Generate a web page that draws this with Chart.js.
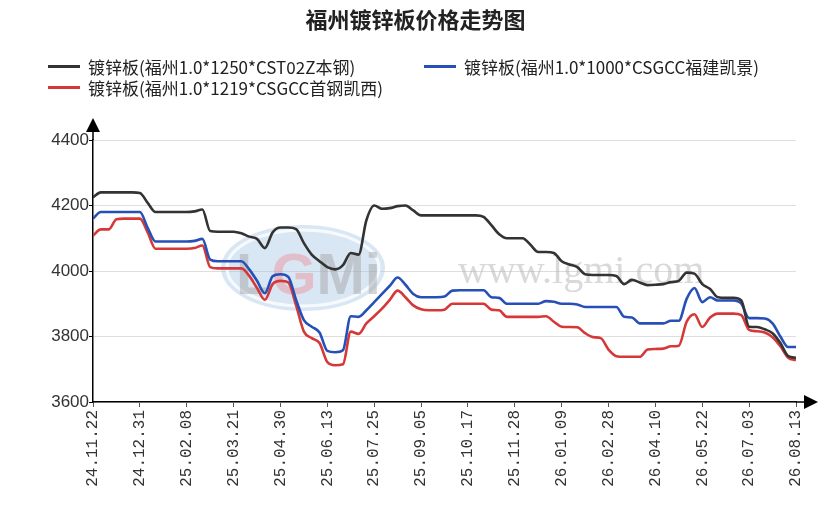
<!DOCTYPE html>
<html>
<head>
<meta charset="utf-8">
<title>福州镀锌板价格走势图</title>
<script src="https://cdn.jsdelivr.net/npm/chart.js@4.4.1/dist/chart.umd.min.js"></script>
<style>
  body { margin: 0; background: #fff; }
  #wrap { position: relative; width: 831px; height: 515px; }
  #title {
    position: absolute; left: 0; top: 4px; width: 831px; text-align: center;
    font: bold 22px "Noto Sans CJK SC", sans-serif; line-height: 28px; color: #222;
  }
  #legend {
    position: absolute; left: 48px; top: 56px;
    display: grid; grid-template-columns: 376px auto;
    font: 17px "Noto Sans CJK SC", sans-serif; line-height: 21px; color: #222;
  }
  .item { display: flex; align-items: center; height: 21px; white-space: nowrap; }
  .swatch { width: 32px; height: 3px; margin-right: 8px; }
</style>
</head>
<body>
<div id="wrap">
  <canvas id="priceChart" width="831" height="515"></canvas>
  <div id="title">福州镀锌板价格走势图</div>
  <div id="legend"></div>
</div>
<script>
// 横轴日期标签（每6个数据点一个）
const xTickLabels = ['24.11.22', '24.12.31', '25.02.08', '25.03.21', '25.04.30', '25.06.13',
  '25.07.25', '25.09.05', '25.10.17', '25.11.28', '26.01.09', '26.02.28',
  '26.04.10', '26.05.22', '26.07.03', '26.08.13'];
const pointsPerLabel = 6;

const seriesNames = [
  '镀锌板(福州1.0*1250*CST02Z本钢)',
  '镀锌板(福州1.0*1000*CSGCC福建凯景)',
  '镀锌板(福州1.0*1219*CSGCC首钢凯西)'
];

// 本钢
const benganPrices = [
  4225, 4240, 4240, 4240, 4240, 4240, 4238, 4208, 4180, 4180,
  4180, 4180, 4180, 4182, 4188, 4122, 4120, 4120, 4120, 4115,
  4105, 4098, 4070, 4118, 4133, 4133, 4128, 4085, 4050, 4030,
  4012, 4005, 4018, 4055, 4050, 4155, 4200, 4190, 4192, 4198,
  4200, 4185, 4170, 4170, 4170, 4170, 4170, 4170, 4170, 4170,
  4165, 4140, 4112, 4100, 4100, 4100, 4080, 4058, 4058, 4055,
  4030, 4020, 4012, 3990, 3988, 3988, 3988, 3985, 3960, 3973,
  3965, 3957, 3958, 3960, 3966, 3970, 3995, 3992, 3960, 3945,
  3920, 3918, 3918, 3910, 3830, 3829, 3822, 3810, 3780, 3740, 3735
];
// 福建凯景
const kaijingPrices = [
  4160, 4180, 4180, 4180, 4180, 4180, 4180, 4132, 4090, 4090,
  4090, 4090, 4090, 4092, 4098, 4035, 4030, 4030, 4030, 4030,
  4005, 3970, 3932, 3984, 3990, 3982, 3912, 3850, 3830, 3812,
  3756, 3752, 3758, 3862, 3860, 3880, 3905, 3930, 3955, 3980,
  3958, 3930, 3920, 3920, 3920, 3922, 3940, 3941, 3941, 3941,
  3941, 3920, 3918, 3900, 3900, 3900, 3900, 3900, 3908, 3906,
  3900, 3900, 3898, 3890, 3890, 3890, 3890, 3890, 3860, 3858,
  3840, 3840, 3840, 3840, 3848, 3848, 3915, 3948, 3905, 3920,
  3910, 3910, 3910, 3900, 3856, 3856, 3855, 3840, 3800, 3768, 3768
];
// 首钢凯西
const kaixiPrices = [
  4108, 4127, 4127, 4158, 4160, 4160, 4160, 4118, 4068, 4068,
  4068, 4068, 4068, 4070, 4078, 4012, 4008, 4008, 4008, 4008,
  3985, 3948, 3912, 3960, 3970, 3965, 3895, 3815, 3795, 3780,
  3722, 3712, 3715, 3815, 3808, 3840, 3862, 3885, 3912, 3940,
  3920, 3895, 3883, 3880, 3880, 3882, 3900, 3900, 3900, 3900,
  3900, 3882, 3880, 3860, 3860, 3860, 3860, 3860, 3862, 3845,
  3830, 3829, 3828, 3810, 3798, 3795, 3760, 3740, 3738, 3738,
  3738, 3760, 3762, 3763, 3770, 3772, 3845, 3868, 3829, 3858,
  3870, 3870, 3870, 3865, 3820, 3816, 3812, 3798, 3770, 3735, 3728
];

const yMin = 3600, yMax = 4400, yStep = 200;

const colors = ['#333333', '#2650b8', '#d63838'];
const allSeries = [benganPrices, kaijingPrices, kaixiPrices];

// HTML 图例
const legendEl = document.getElementById('legend');
seriesNames.forEach((name, i) => {
  const item = document.createElement('div');
  item.className = 'item';
  item.innerHTML = '<span class="swatch" style="background:' + colors[i] + '"></span>' + name;
  legendEl.appendChild(item);
});

// 水印
const watermark = {
  id: 'watermark',
  beforeDatasetsDraw(chart) {
    const ctx = chart.ctx;
    ctx.save();
    ctx.fillStyle = 'rgba(170, 200, 230, 0.45)';
    ctx.beginPath();
    ctx.ellipse(303, 268, 82, 43, 0, 0, Math.PI * 2);
    ctx.fill();
    ctx.strokeStyle = 'rgba(255, 255, 255, 0.8)';
    ctx.lineWidth = 3;
    ctx.beginPath();
    ctx.ellipse(303, 268, 76, 38, 0, 0, Math.PI * 2);
    ctx.stroke();
    ctx.font = 'bold 58px "Liberation Sans"';
    ctx.textBaseline = 'alphabetic';
    const parts = [['L', 'rgba(160,160,160,0.45)'], ['G', 'rgba(240,130,140,0.4)'],
                   ['M', 'rgba(160,160,160,0.45)'], ['i', 'rgba(160,160,160,0.45)']];
    let x = 236;
    parts.forEach(([ch, c]) => {
      ctx.fillStyle = c;
      ctx.fillText(ch, x, 294);
      x += ctx.measureText(ch).width;
    });
    ctx.font = '40px "Liberation Serif"';
    ctx.fillStyle = 'rgba(180, 180, 180, 0.5)';
    ctx.fillText('www.lgmi.com', 458, 283);
    ctx.restore();
  }
};

// 坐标轴箭头
const axisArrows = {
  id: 'axisArrows',
  afterDraw(chart) {
    const { ctx, chartArea: a } = chart;
    ctx.save();
    ctx.strokeStyle = '#000';
    ctx.fillStyle = '#000';
    ctx.lineWidth = 1.5;
    ctx.beginPath();
    ctx.moveTo(a.left, a.top);
    ctx.lineTo(a.left, a.top - 12);
    ctx.moveTo(a.right, a.bottom);
    ctx.lineTo(a.right + 10, a.bottom);
    ctx.stroke();
    ctx.beginPath();
    ctx.moveTo(a.left, a.top - 22);
    ctx.lineTo(a.left - 7, a.top - 8);
    ctx.lineTo(a.left + 7, a.top - 8);
    ctx.closePath();
    ctx.fill();
    ctx.beginPath();
    ctx.moveTo(a.right + 22, a.bottom);
    ctx.lineTo(a.right + 8, a.bottom - 7);
    ctx.lineTo(a.right + 8, a.bottom + 7);
    ctx.closePath();
    ctx.fill();
    ctx.restore();
  }
};

const ctx = document.getElementById('priceChart').getContext('2d');
const priceChart = new Chart(ctx, {
  type: 'line',
  data: {
    datasets: allSeries.map((values, i) => ({
      label: seriesNames[i],
      data: values.map((v, idx) => ({ x: idx, y: v })),
      borderColor: colors[i],
      borderWidth: 2.6,
      pointRadius: 0,
      tension: 0.4,
      cubicInterpolationMode: 'monotone',
      fill: false
    }))
  },
  options: {
    responsive: false,
    animation: false,
    layout: { padding: { top: 140, right: 35, left: 0, bottom: 0 } },
    plugins: {
      legend: { display: false },
      title: { display: false },
      tooltip: { enabled: false }
    },
    scales: {
      x: {
        type: 'linear',
        min: 0,
        max: (xTickLabels.length - 1) * pointsPerLabel,
        afterFit: s => { s.height = 113; },
        ticks: {
          stepSize: pointsPerLabel,
          autoSkip: false,
          minRotation: 90,
          maxRotation: 90,
          padding: 3,
          color: '#333',
          font: { family: 'Liberation Mono', size: 16 },
          callback: v => xTickLabels[v / pointsPerLabel]
        },
        grid: { drawOnChartArea: false, drawTicks: true, tickLength: 5, tickColor: '#555' },
        border: { color: '#000', width: 1.5 }
      },
      y: {
        min: yMin,
        max: yMax,
        afterFit: s => { s.width = 93; },
        ticks: {
          stepSize: yStep,
          padding: 0,
          color: '#333',
          font: { family: 'Liberation Sans', size: 17 },
          callback: v => String(v)
        },
        grid: { color: '#dddddd', lineWidth: 1, tickLength: 4, tickColor: '#000' },
        border: { color: '#000', width: 1.5 }
      }
    }
  },
  plugins: [watermark, axisArrows]
});
</script>
</body>
</html>
